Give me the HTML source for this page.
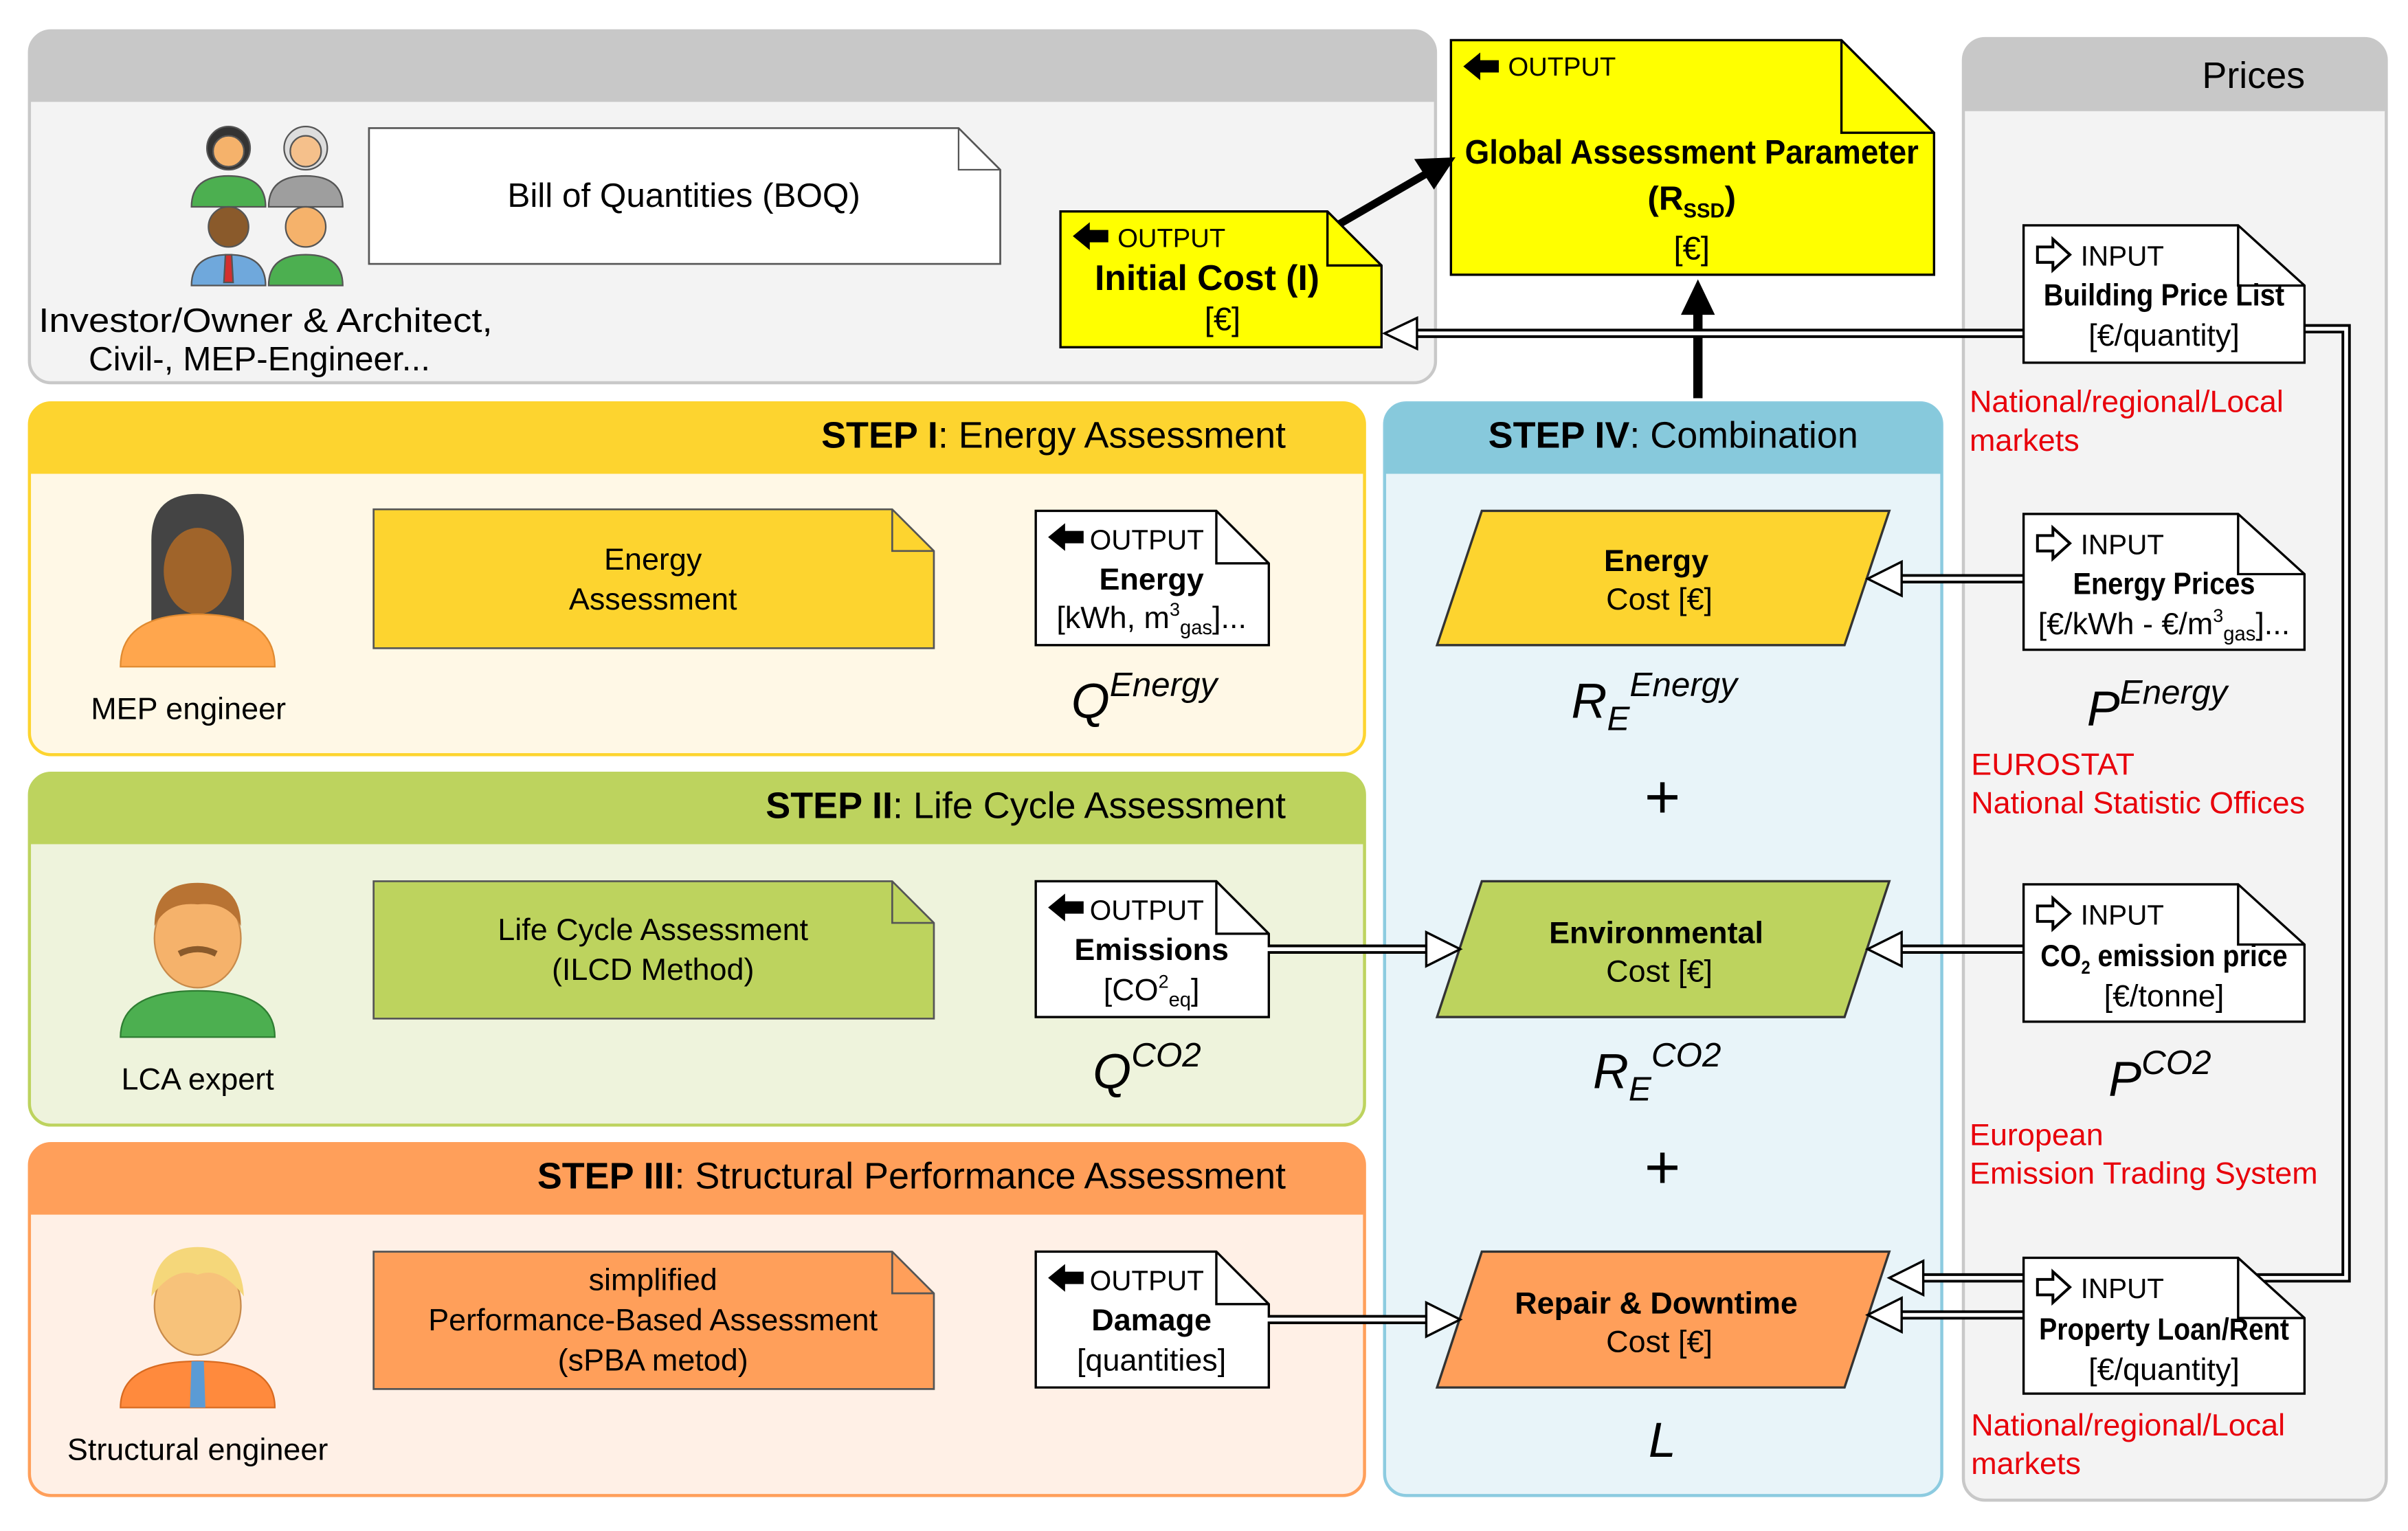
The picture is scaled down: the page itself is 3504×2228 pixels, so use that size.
<!DOCTYPE html>
<html><head><meta charset="utf-8"><style>html,body{margin:0;padding:0;background:#fff}svg{display:block}text{font-family:"Liberation Sans",sans-serif}</style></head><body>
<svg width="3504" height="2228" viewBox="0 0 1560 992" xmlns="http://www.w3.org/2000/svg">
<!-- Top panel -->
<rect x="19" y="20" width="911" height="228" rx="14" fill="#f3f3f3" stroke="#c8c8c8" stroke-width="2"/>
<path d="M19,66 V34 Q19,20 33,20 H916 Q930,20 930,34 V66 Z" fill="#c8c8c8"/>
<g stroke="#555" stroke-width="1">
<g transform="translate(148,114)" fill="#4caf50"><circle cx="0" cy="-18" r="14" fill="#333"/><circle cx="0" cy="-16" r="10" fill="#f5b26b"/><path d="M-24,20 Q-24,0 0,0 Q24,0 24,20 Z"/></g>
<g transform="translate(198,114)" fill="#9e9e9e"><circle cx="0" cy="-18" r="14" fill="#ddd"/><circle cx="0" cy="-16" r="10" fill="#f5c08b"/><path d="M-24,20 Q-24,0 0,0 Q24,0 24,20 Z"/></g>
<g transform="translate(148,165)" fill="#6fa8dc"><circle cx="0" cy="-18" r="13" fill="#8a5a2b"/><path d="M-24,20 Q-24,0 0,0 Q24,0 24,20 Z"/><path d="M-2,0 L2,0 L3,18 L-3,18Z" fill="#d32f2f"/></g>
<g transform="translate(198,165)" fill="#4caf50"><circle cx="0" cy="-18" r="13" fill="#f5b26b"/><path d="M-24,20 Q-24,0 0,0 Q24,0 24,20 Z"/></g>
</g>
<path d="M239,83 H621 L648,110 V171 H239 Z" fill="#fff" stroke="#555" stroke-width="1.2"/><path d="M621,83 V110 H648" fill="none" stroke="#555"/>
<text x="443" y="134" font-size="22" text-anchor="middle">Bill of Quantities (BOQ)</text>
<text x="172" y="215" font-size="22" text-anchor="middle" textLength="294" lengthAdjust="spacingAndGlyphs">Investor/Owner &amp; Architect,</text>
<text x="168" y="240" font-size="22" text-anchor="middle">Civil-, MEP-Engineer...</text>
<!-- Initial cost -->
<path d="M687,137 H860 L895,172 V225 H687 Z" fill="#ffff00" stroke="#000" stroke-width="1.5"/><path d="M860,137 V172 H895" fill="none" stroke="#000" stroke-width="1.5"/>
<path d="M695,153 L706,144 V149 H718 V157 H706 V162 Z" fill="#000"/>
<text x="724" y="160" font-size="17">OUTPUT</text>
<text x="782" y="188" font-size="23" font-weight="bold" text-anchor="middle">Initial Cost (I)</text>
<text x="792" y="214" font-size="21" text-anchor="middle">[€]</text>
<!-- Global -->
<path d="M940,26 H1193 L1253,86 V178 H940 Z" fill="#ffff00" stroke="#000" stroke-width="1.5"/><path d="M1193,26 V86 H1253" fill="none" stroke="#000" stroke-width="1.5"/>
<path d="M948,43 L959,34 V39 H971 V47 H959 V52 Z" fill="#000"/>
<text x="977" y="49" font-size="17">OUTPUT</text>
<text x="1096" y="106" font-size="22" font-weight="bold" text-anchor="middle" textLength="294" lengthAdjust="spacingAndGlyphs">Global Assessment Parameter</text>
<text x="1096" y="136" font-size="22" font-weight="bold" text-anchor="middle">(R<tspan font-size="13" dy="5">SSD</tspan><tspan dy="-5">)</tspan></text>
<text x="1096" y="168" font-size="21" text-anchor="middle">[€]</text>
<line x1="868" y1="145" x2="925" y2="112" stroke="#000" stroke-width="5"/>
<path d="M941,103 L918,104 L929,121 Z" fill="#000" stroke="#000" stroke-width="2"/>
<line x1="1100" y1="258" x2="1100" y2="200" stroke="#000" stroke-width="6"/>
<path d="M1100,181 L1089,204 L1111,204 Z" fill="#000"/>
<!-- Prices -->
<rect x="1272" y="25" width="274" height="947" rx="14" fill="#f3f3f3" stroke="#c8c8c8" stroke-width="2"/>
<path d="M1272,72 V39 Q1272,25 1286,25 H1532 Q1546,25 1546,39 V72 Z" fill="#c8c8c8"/>
<text x="1460" y="57" font-size="24" text-anchor="middle">Prices</text>
<!-- Steps -->
<rect x="19" y="261" width="865" height="228" rx="14" fill="#fff8e6" stroke="#fdd42f" stroke-width="2"/>
<path d="M19,307 V275 Q19,261 33,261 H870 Q884,261 884,275 V307 Z" fill="#fdd42f"/>
<text x="833" y="290" font-size="24" text-anchor="end"><tspan font-weight="bold">STEP I</tspan>: Energy Assessment</text>
<rect x="19" y="501" width="865" height="228" rx="14" fill="#eef3dc" stroke="#bdd35e" stroke-width="2"/>
<path d="M19,547 V515 Q19,501 33,501 H870 Q884,501 884,515 V547 Z" fill="#bdd35e"/>
<text x="833" y="530" font-size="24" text-anchor="end"><tspan font-weight="bold">STEP II</tspan>: Life Cycle Assessment</text>
<rect x="19" y="741" width="865" height="228" rx="14" fill="#fff0e6" stroke="#ff9f5a" stroke-width="2"/>
<path d="M19,787 V755 Q19,741 33,741 H870 Q884,741 884,755 V787 Z" fill="#ff9f5a"/>
<text x="833" y="770" font-size="24" text-anchor="end"><tspan font-weight="bold">STEP III</tspan>: Structural Performance Assessment</text>
<rect x="897" y="261" width="361" height="708" rx="14" fill="#e8f4f9" stroke="#8ccbe0" stroke-width="2"/>
<path d="M897,307 V275 Q897,261 911,261 H1244 Q1258,261 1258,275 V307 Z" fill="#87c9dc"/>
<text x="1084" y="290" font-size="24" text-anchor="middle"><tspan font-weight="bold">STEP IV</tspan>: Combination</text>
<!-- persons -->
<g transform="translate(128,380)"><path d="M-30,50 V-30 Q-30,-60 0,-60 Q30,-60 30,-30 V50 Z" fill="#444"/><ellipse cx="0" cy="-10" rx="22" ry="28" fill="#a0642a"/><path d="M-50,52 Q-50,18 0,18 Q50,18 50,52 Z" fill="#ffa64d" stroke="#e08a30"/></g>
<text x="122" y="466" font-size="20" text-anchor="middle">MEP engineer</text>
<g transform="translate(128,620)"><ellipse cx="0" cy="-12" rx="28" ry="32" fill="#f5b26b" stroke="#c88a4a"/><path d="M-28,-20 Q-28,-48 0,-48 Q28,-48 28,-20 Q20,-36 0,-34 Q-20,-36 -28,-20Z" fill="#b87333"/><path d="M-12,-2 Q0,-8 12,-2" stroke="#8a5a2b" stroke-width="4" fill="none"/><path d="M-50,52 Q-50,22 0,22 Q50,22 50,52 Z" fill="#4caf50" stroke="#2e7d32"/></g>
<text x="128" y="706" font-size="20" text-anchor="middle">LCA expert</text>
<g transform="translate(128,860)"><ellipse cx="0" cy="-14" rx="28" ry="32" fill="#f7c27a" stroke="#c88a4a"/><path d="M-30,-20 Q-28,-52 0,-52 Q28,-52 30,-20 Q15,-40 0,-34 Q-15,-40 -30,-20Z" fill="#f5d77a"/><path d="M-50,52 Q-50,22 0,22 Q50,22 50,52 Z" fill="#ff8a3d" stroke="#d86a20"/><path d="M-4,22 L4,22 L5,52 L-5,52Z" fill="#5b9bd5"/></g>
<text x="128" y="946" font-size="20" text-anchor="middle">Structural engineer</text>
<!-- process docs -->
<g stroke="#555" stroke-width="1.2">
<path d="M242,330 H578 L605,357 V420 H242 Z" fill="#fdd42f"/><path d="M578,330 V357 H605" fill="none"/>
<path d="M242,571 H578 L605,598 V660 H242 Z" fill="#bdd35e"/><path d="M578,571 V598 H605" fill="none"/>
<path d="M242,811 H578 L605,838 V900 H242 Z" fill="#ff9f5a"/><path d="M578,811 V838 H605" fill="none"/>
</g>
<g font-size="20" text-anchor="middle">
<text x="423" y="369">Energy</text><text x="423" y="395">Assessment</text>
<text x="423" y="609">Life Cycle Assessment</text><text x="423" y="635">(ILCD Method)</text>
<text x="423" y="836">simplified</text><text x="423" y="862">Performance-Based Assessment</text><text x="423" y="888">(sPBA metod)</text>
</g>
<g stroke="#000" stroke-width="1.5" fill="#fff">
<path d="M671,331 H788 L822,365 V418 H671 Z"/><path d="M788,331 V365 H822" fill="none"/>
<path d="M671,571 H788 L822,605 V659 H671 Z"/><path d="M788,571 V605 H822" fill="none"/>
<path d="M671,811 H788 L822,845 V899 H671 Z"/><path d="M788,811 V845 H822" fill="none"/>
</g>
<g fill="#000">
<path d="M679,348 L690,339 V344 H702 V352 H690 V357 Z"/>
<path d="M679,588 L690,579 V584 H702 V592 H690 V597 Z"/>
<path d="M679,828 L690,819 V824 H702 V832 H690 V837 Z"/>
</g>
<g font-size="18"><text x="706" y="356">OUTPUT</text><text x="706" y="596">OUTPUT</text><text x="706" y="836">OUTPUT</text></g>
<g font-size="20" text-anchor="middle">
<text x="746" y="382" font-weight="bold">Energy</text><text x="746" y="407">[kWh, m<tspan font-size="12" dy="-8">3</tspan><tspan font-size="13" dy="12">gas</tspan><tspan dy="-4">]...</tspan></text>
<text x="746" y="622" font-weight="bold">Emissions</text><text x="746" y="648">[CO<tspan font-size="12" dy="-8">2</tspan><tspan font-size="13" dy="12">eq</tspan><tspan dy="-4">]</tspan></text>
<text x="746" y="862" font-weight="bold">Damage</text><text x="746" y="888">[quantities]</text>
</g>
<g font-size="32" font-style="italic">
<text x="694" y="465">Q<tspan font-size="22" dy="-14">Energy</tspan></text>
<text x="708" y="705">Q<tspan font-size="22" dy="-14">CO2</tspan></text>
<text x="1018" y="465">R<tspan font-size="22" dy="8">E</tspan><tspan font-size="22" dy="-22">Energy</tspan></text>
<text x="1032" y="705">R<tspan font-size="22" dy="8">E</tspan><tspan font-size="22" dy="-22">CO2</tspan></text>
<text x="1068" y="944">L</text>
<text x="1352" y="470">P<tspan font-size="22" dy="-14">Energy</tspan></text>
<text x="1366" y="710">P<tspan font-size="22" dy="-14">CO2</tspan></text>
</g>
<text x="1077" y="530" font-size="40" text-anchor="middle">+</text>
<text x="1077" y="770" font-size="40" text-anchor="middle">+</text>
<g stroke="#333" stroke-width="1.5">
<path d="M960,331 H1224 L1195,418 H931 Z" fill="#fdd42f"/>
<path d="M960,571 H1224 L1195,659 H931 Z" fill="#bdd35e"/>
<path d="M960,811 H1224 L1195,899 H931 Z" fill="#ff9f5a"/>
</g>
<g font-size="20" text-anchor="middle">
<text x="1073" y="370" font-weight="bold">Energy</text><text x="1075" y="395">Cost [€]</text>
<text x="1073" y="611" font-weight="bold">Environmental</text><text x="1075" y="636">Cost [€]</text>
<text x="1073" y="851" font-weight="bold">Repair &amp; Downtime</text><text x="1075" y="876">Cost [€]</text>
</g>
<g fill="none">
<g stroke="#000" stroke-width="6">
<path d="M1311,216 H915"/><path d="M1311,375 H1230"/><path d="M1311,615 H1230"/><path d="M1311,852 H1230"/>
<path d="M1493,213 H1520 V828 H1245"/>
<path d="M822,615 H928"/><path d="M822,855 H928"/>
</g>
<g stroke="#fff" stroke-width="2.5">
<path d="M1311,216 H912"/><path d="M1311,375 H1226"/><path d="M1311,615 H1226"/><path d="M1311,852 H1226"/>
<path d="M1492,213 H1520 V828 H1241"/>
<path d="M821,615 H931"/><path d="M821,855 H931"/>
</g>
</g>
<g fill="#fff" stroke="#000" stroke-width="1.5">
<path d="M897,216 L918,206 L918,226 Z"/>
<path d="M1210,375 L1232,364 L1232,386 Z"/>
<path d="M1210,615 L1232,604 L1232,626 Z"/>
<path d="M1210,852 L1232,841 L1232,863 Z"/>
<path d="M1224,828 L1246,817 L1246,839 Z"/>
<path d="M946,615 L924,604 L924,626 Z"/>
<path d="M946,855 L924,844 L924,866 Z"/>
</g>
<g stroke="#000" stroke-width="1.5" fill="#fff">
<path d="M1311,146 H1450 L1493,185 V235 H1311 Z"/><path d="M1450,146 V185 H1493" fill="none"/>
<path d="M1311,333 H1450 L1493,372 V421 H1311 Z"/><path d="M1450,333 V372 H1493" fill="none"/>
<path d="M1311,573 H1450 L1493,612 V662 H1311 Z"/><path d="M1450,573 V612 H1493" fill="none"/>
<path d="M1311,815 H1450 L1493,854 V903 H1311 Z"/><path d="M1450,815 V854 H1493" fill="none"/>
</g>
<g fill="#fff" stroke="#000" stroke-width="1.8">
<path d="M1341,165 L1330,155 V160 H1320 V170 H1330 V175 Z"/>
<path d="M1341,352 L1330,342 V347 H1320 V357 H1330 V362 Z"/>
<path d="M1341,592 L1330,582 V587 H1320 V597 H1330 V602 Z"/>
<path d="M1341,834 L1330,824 V829 H1320 V839 H1330 V844 Z"/>
</g>
<g font-size="18"><text x="1348" y="172">INPUT</text><text x="1348" y="359">INPUT</text><text x="1348" y="599">INPUT</text><text x="1348" y="841">INPUT</text></g>
<g font-size="20" text-anchor="middle">
<text x="1402" y="198" font-weight="bold" textLength="156" lengthAdjust="spacingAndGlyphs">Building Price List</text><text x="1402" y="224">[€/quantity]</text>
<text x="1402" y="385" font-weight="bold" textLength="118" lengthAdjust="spacingAndGlyphs">Energy Prices</text><text x="1402" y="411">[€/kWh - €/m<tspan font-size="12" dy="-8">3</tspan><tspan font-size="13" dy="12">gas</tspan><tspan dy="-4">]...</tspan></text>
<text x="1402" y="626" font-weight="bold" textLength="160" lengthAdjust="spacingAndGlyphs">CO<tspan font-size="12" dy="5">2</tspan><tspan dy="-5"> emission price</tspan></text><text x="1402" y="652">[€/tonne]</text>
<text x="1402" y="868" font-weight="bold" textLength="162" lengthAdjust="spacingAndGlyphs">Property Loan/Rent</text><text x="1402" y="894">[€/quantity]</text>
</g>
<g font-size="20" fill="#e8000b">
<text x="1276" y="267">National/regional/Local</text><text x="1276" y="292">markets</text>
<text x="1277" y="502">EUROSTAT</text><text x="1277" y="527">National Statistic Offices</text>
<text x="1276" y="742">European</text><text x="1276" y="767">Emission Trading System</text>
<text x="1277" y="930">National/regional/Local</text><text x="1277" y="955">markets</text>
</g>
</svg>
</body></html>
